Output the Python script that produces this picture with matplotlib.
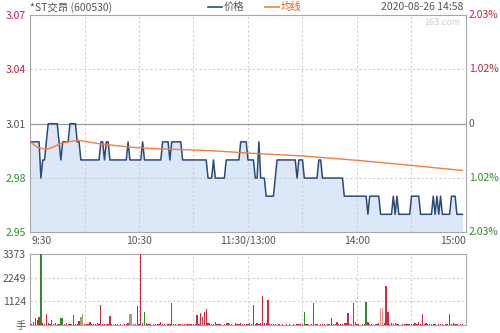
import matplotlib
matplotlib.use('Agg')
import matplotlib.pyplot as plt
from matplotlib.lines import Line2D
from matplotlib.transforms import blended_transform_factory

# minute prices 9:30 .. 14:58 (morning 0-120, afternoon 120-238)
price = [
    3.00, 3.00, 3.00, 3.00, 3.00, 3.00, 2.98, 2.99, 2.99, 3.00,
    3.01, 3.01, 3.01, 3.01, 3.01, 3.01, 3.00, 2.99, 3.00, 3.00,
    3.00, 3.00, 3.01, 3.01, 3.01, 3.01, 3.00, 3.00, 2.99, 2.99,
    2.99, 2.99, 2.99, 2.99, 2.99, 2.99, 2.99, 2.99, 2.99, 3.00,
    3.00, 2.99, 3.00, 3.00, 2.99, 2.99, 2.99, 2.99, 2.99, 2.99,
    2.99, 2.99, 2.99, 2.99, 3.00, 2.99, 2.99, 2.99, 2.99, 2.99,
    2.99, 2.99, 3.00, 2.99, 2.99, 2.99, 2.99, 2.99, 2.99, 2.99,
    2.99, 2.99, 2.99, 3.00, 3.00, 3.00, 3.00, 2.99, 3.00, 3.00,
    3.00, 3.00, 3.00, 3.00, 2.99, 2.99, 2.99, 2.99, 2.99, 2.99,
    2.99, 2.99, 2.99, 2.99, 2.99, 2.99, 2.99, 2.99, 2.98, 2.98,
    2.98, 2.99, 2.98, 2.98, 2.98, 2.98, 2.98, 2.98, 2.99, 2.99,
    2.99, 2.99, 2.99, 2.99, 2.99, 2.99, 3.00, 3.00, 3.00, 3.00,
    2.99, 2.99, 2.99, 2.99, 2.98, 2.98, 3.00, 2.98, 2.98, 2.98,
    2.97, 2.97, 2.97, 2.97, 2.97, 2.98, 2.99, 2.99, 2.99, 2.99,
    2.99, 2.99, 2.99, 2.99, 2.99, 2.99, 2.99, 2.98, 2.99, 2.99,
    2.99, 2.98, 2.98, 2.98, 2.98, 2.98, 2.98, 2.98, 2.98, 2.99,
    2.99, 2.98, 2.98, 2.98, 2.98, 2.98, 2.98, 2.98, 2.98, 2.98,
    2.98, 2.98, 2.98, 2.97, 2.97, 2.97, 2.97, 2.97, 2.97, 2.97,
    2.97, 2.97, 2.97, 2.97, 2.97, 2.97, 2.96, 2.97, 2.97, 2.97,
    2.97, 2.97, 2.97, 2.96, 2.96, 2.96, 2.96, 2.96, 2.96, 2.96,
    2.97, 2.96, 2.97, 2.96, 2.96, 2.96, 2.96, 2.96, 2.96, 2.96,
    2.97, 2.97, 2.97, 2.97, 2.97, 2.96, 2.96, 2.96, 2.96, 2.96,
    2.96, 2.96, 2.97, 2.96, 2.97, 2.96, 2.97, 2.96, 2.96, 2.96,
    2.96, 2.96, 2.97, 2.97, 2.97, 2.96, 2.96, 2.96, 2.96,
]

# average line read at a few minutes
avg_min = [0, 4, 9, 13, 17, 21, 26, 29, 39, 54, 60, 75, 90, 105, 120,
           135, 150, 165, 180, 195, 210, 225, 238]
avg_val = [3.000, 2.997, 2.9958, 2.9972, 2.9992, 3.0000, 3.0008, 3.0005,
           2.9988, 2.9972, 2.9967, 2.9960, 2.9955, 2.9948, 2.9938,
           2.9930, 2.9922, 2.9910, 2.9898, 2.9884, 2.9870, 2.9855, 2.9842]

volume = [
    60, 40, 120, 317, 238, 396, 3373, 80, 60, 523,
    100, 60, 238, 40, 110, 30, 50, 317, 317, 60,
    80, 40, 60, 40, 475, 50, 30, 200, 380, 500,
    60, 30, 40, 158, 50, 40, 30, 80, 40, 950,
    60, 30, 50, 40, 428, 30, 20, 40, 30, 20,
    30, 20, 40, 60, 80, 507, 507, 60, 40, 903,
    60, 3373, 100, 600, 100, 40, 30, 20, 30, 40,
    30, 40, 150, 30, 60, 20, 60, 40, 1030, 50,
    30, 20, 30, 40, 30, 40, 60, 30, 40, 60,
    30, 40, 475, 60, 554, 396, 634, 776, 100, 100,
    40, 60, 150, 60, 30, 40, 20, 30, 80, 80,
    60, 30, 20, 80, 30, 40, 80, 30, 40, 70,
    60, 80, 40, 950, 60, 100, 60, 80, 1378, 80,
    100, 1188, 60, 40, 30, 60, 20, 30, 20, 30,
    20, 30, 20, 30, 20, 30, 20, 40, 50, 30,
    60, 634, 40, 30, 20, 40, 1030, 50, 30, 20,
    30, 40, 30, 20, 40, 30, 317, 40, 60, 120,
    40, 30, 60, 80, 100, 586, 60, 40, 1030, 120,
    40, 30, 20, 60, 40, 1077, 150, 40, 30, 20,
    30, 60, 80, 792, 792, 100, 1853, 634, 60, 100,
    60, 100, 40, 30, 20, 40, 30, 40, 60, 60,
    40, 30, 100, 60, 158, 60, 523, 40, 80, 50,
    40, 60, 50, 30, 20, 40, 30, 40, 20, 60,
    30, 523, 40, 100, 40, 30, 20, 40, 30,
]
green_bars = [6, 17, 18, 63, 151, 185]
tan_bars = [28, 29, 55, 56]
pale_bars = [193, 194]

price_ticks = [2.95, 2.98, 3.01, 3.04, 3.07]
pct_labels = ['2.03%', '1.02%', '0', '1.02%', '2.03%']
vol_ticks = [1124, 2249, 3373]
time_ticks = [0, 60, 120, 180, 240]
time_labels = ['9:30', '10:30', '11:30/13:00', '14:00', '15:00']

RED = '#c8203c'
GREEN = '#2e8b2e'
GRAY = '#555555'
FRAME = '#a8a8a8'
GRID = '#cfcfcf'

plt.rcParams['font.family'] = ['Noto Sans CJK SC', 'DejaVu Sans']

fig = plt.figure(figsize=(5, 3.33), dpi=100)
ax = fig.add_axes([0.06, 0.302, 0.872, 0.653])
axv = fig.add_axes([0.06, 0.024, 0.872, 0.213])

mins = list(range(len(price)))
ax.fill_between(mins, price, 2.95, color='#dce7f7', lw=0)
ax.plot(mins, price, color='#2b4a78', lw=1.1, zorder=3)
ax.plot(avg_min, avg_val, color='#f08040', lw=1.0, zorder=3)
ax.set_xlim(0, 240)
ax.set_ylim(2.95, 3.07)

for m in [30, 60, 90, 120, 150, 180, 210]:
    ax.axvline(m, color=GRID, ls=(0, (2, 2)), lw=0.8, zorder=1)
    axv.axvline(m, color=GRID, ls=(0, (2, 2)), lw=0.8, zorder=1)
for v in [2.98, 3.04]:
    ax.axhline(v, color=GRID, ls=(0, (2, 2)), lw=0.8, zorder=1)
ax.axhline(3.01, color='#9a9a9a', lw=0.9, zorder=2)

tick_colors = [GREEN, GREEN, GRAY, RED, RED]
ax.set_yticks(price_ticks)
labs = ax.set_yticklabels(['%.2f' % v for v in price_ticks])
for lab, c in zip(labs, tick_colors):
    lab.set_color(c)
ax.tick_params(axis='y', length=0, pad=3, labelsize=7.5)
ax.set_xticks([])

tr = blended_transform_factory(ax.transAxes, ax.transData)
for v, s, c in zip(price_ticks, pct_labels, tick_colors):
    ax.text(1.006, v, s, transform=tr, ha='left', va='center',
            fontsize=7.5, color=c)

trx = blended_transform_factory(ax.transData, fig.transFigure)
for m, s in zip(time_ticks, time_labels):
    ha = 'center'
    if m == 0:
        ha = 'left'
    elif m == 240:
        ha = 'right'
    ax.text(m + (1 if m == 0 else 0), 0.276, s, transform=trx, ha=ha,
            va='center', fontsize=7.5, color=GRAY)

for a in (ax, axv):
    for sp in a.spines.values():
        sp.set_color(FRAME)
        sp.set_linewidth(0.8)

# volume bars
colors = []
for i in range(len(volume)):
    if i in green_bars:
        colors.append(GREEN)
    elif i in tan_bars:
        colors.append('#b09c74')
    elif i in pale_bars:
        colors.append('#ec8a8a')
    else:
        colors.append('#d0283c')
axv.bar(mins, volume, width=0.7, color=colors, lw=0, zorder=3)
axv.set_xlim(0, 240)
axv.set_ylim(0, 3373)
for v in [1124, 2249]:
    axv.axhline(v, color=GRID, ls=(0, (2, 2)), lw=0.8, zorder=1)
axv.set_xticks([])
axv.set_yticks(vol_ticks)
axv.set_yticklabels([str(v) for v in vol_ticks])
axv.tick_params(axis='y', length=0, pad=3, labelsize=7.5, labelcolor=GRAY)
fig.text(0.042, 0.02, '手', ha='center', va='center', fontsize=7.5, color=GRAY)

# header
fig.text(0.06, 0.978, '*ST交昂 (600530)', ha='left', va='center',
         fontsize=7.5, color=GRAY)
fig.add_artist(Line2D([0.416, 0.444], [0.978, 0.978], color='#2b4a78', lw=1.2))
fig.text(0.447, 0.978, '价格', ha='left', va='center', fontsize=7.5, color=GRAY)
fig.add_artist(Line2D([0.53, 0.558], [0.978, 0.978], color='#f08040', lw=1.2))
fig.text(0.561, 0.978, '均线', ha='left', va='center', fontsize=7.5,
         color='#e0602a')
fig.text(0.926, 0.978, '2020-08-26 14:58', ha='right', va='center',
         fontsize=7.5, color=GRAY)
fig.text(0.92, 0.932, '163.com', ha='right', va='center', fontsize=6.5,
         color='#d0d0d0')

fig.savefig('out.png', dpi=100)
